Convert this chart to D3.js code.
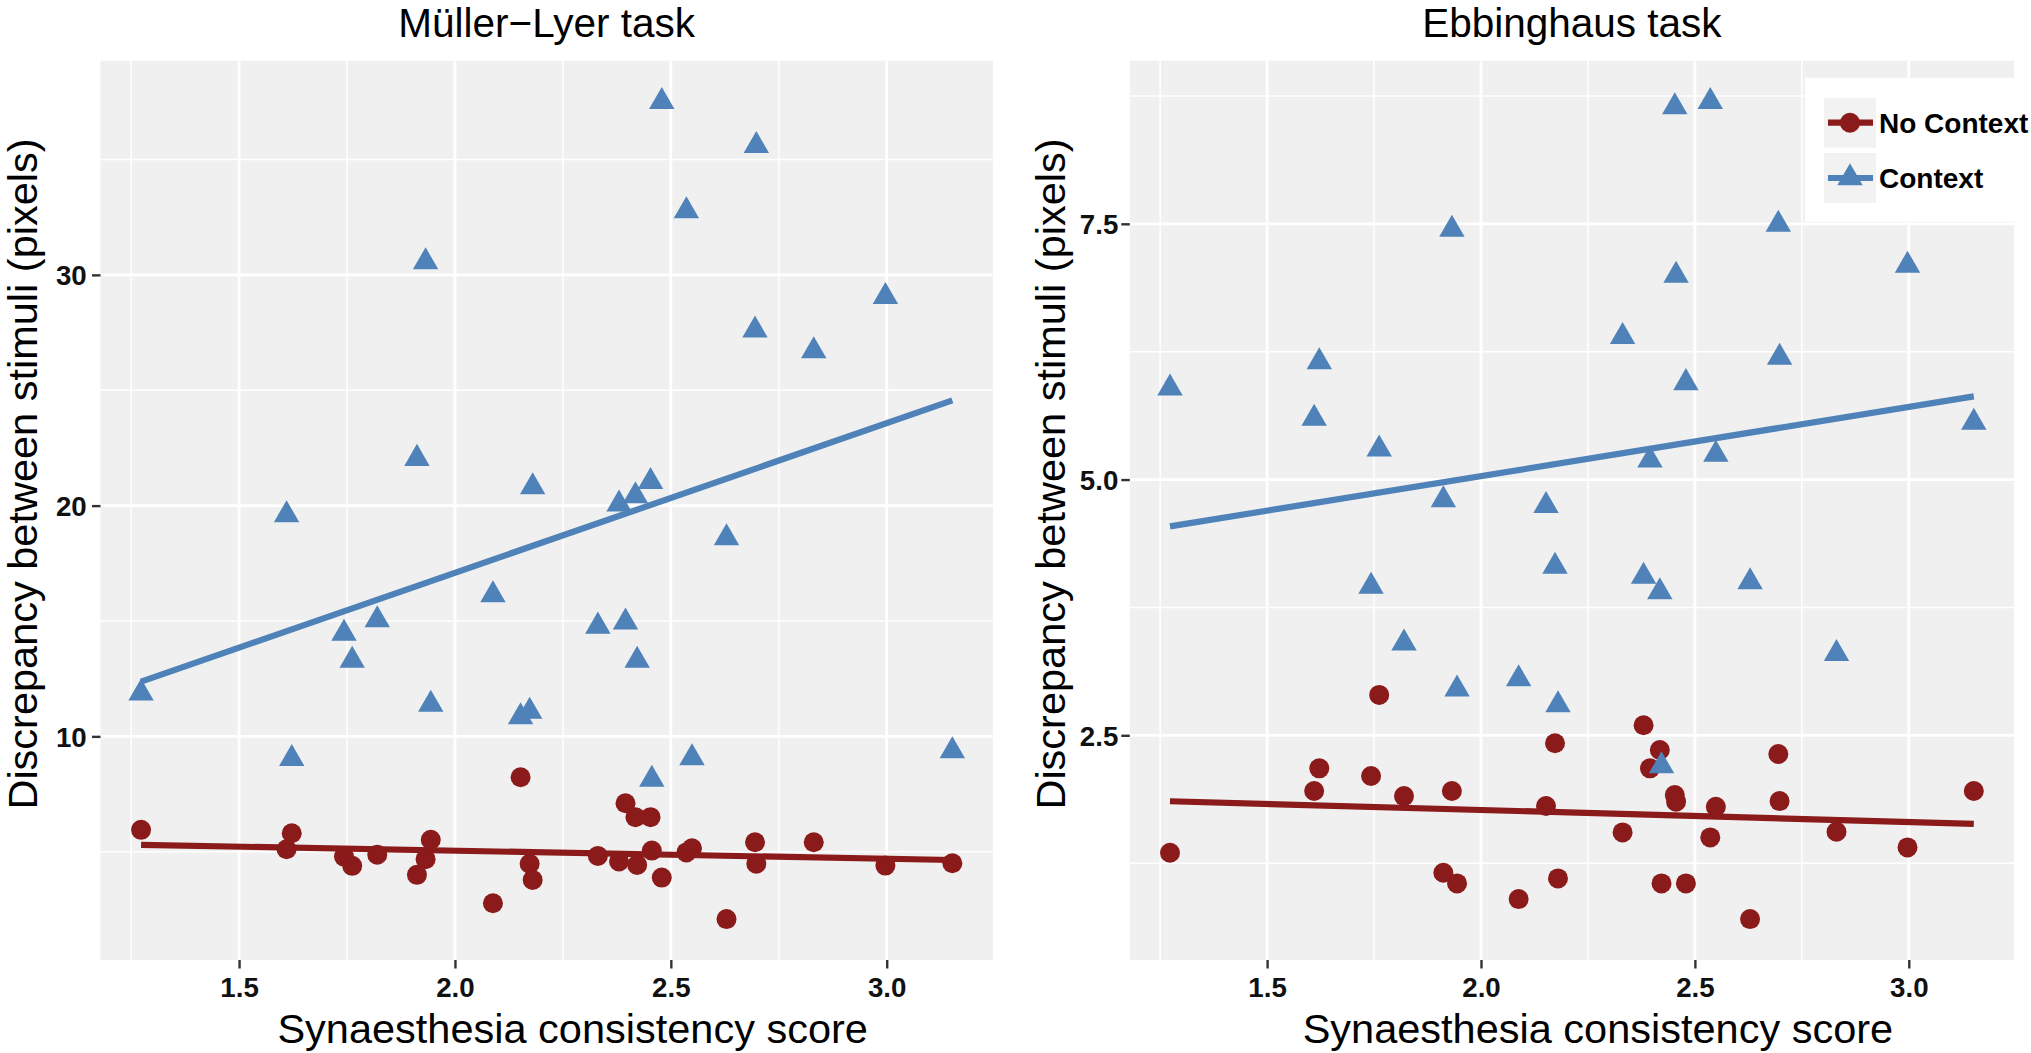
<!DOCTYPE html>
<html>
<head>
<meta charset="utf-8">
<script src="https://cdn.jsdelivr.net/npm/d3@7"></script>
<style>
  body { margin: 0; background: #ffffff; }
  text { font-family: "Liberation Sans", Arial, Helvetica, sans-serif; }
</style>
</head>
<body>
<div id="chart"></div>
<script>
// synaesthesia consistency score per participant (shared by both tasks)
var score = [1.273, 1.610, 1.622, 1.743, 1.762, 1.820, 1.912, 1.932, 1.944, 2.088,
             2.152, 2.173, 2.180, 2.331, 2.380, 2.395, 2.418, 2.422, 2.453, 2.456,
             2.479, 2.536, 2.549, 2.629, 2.695, 2.698, 2.831, 2.997, 3.152]

// Müller-Lyer discrepancy (pixels)
var mlNoContext = [5.95, 5.11, 5.80, 4.79, 4.39, 4.87, 4.00, 4.68, 5.52, 2.77,
                   8.23, 4.48, 3.78, 4.82, 4.58, 7.10, 6.50, 4.43, 6.50, 5.05,
                   3.88, 4.97, 5.15, 2.08, 5.41, 4.48, 5.41, 4.40, 4.50]
var mlContext = [11.87, 19.60, 9.03, 14.46, 13.29, 15.05, 22.04, 30.56, 11.38, 16.13,
                 10.84, 11.08, 20.81, 14.77, 20.06, 14.95, 20.42, 13.29, 21.04, 8.13,
                 37.51, 32.77, 9.07, 18.60, 27.60, 35.60, 26.70, 29.06, 9.37]

// Ebbinghaus discrepancy (pixels)
var ebNoContext = [1.352, 1.955, 2.177, 2.102, 2.895, 1.906, 1.156, 1.955, 1.052, 0.899,
                   1.809, 2.422, 1.101, 1.551, 2.598, 2.177, 2.356, 1.052, 1.916, 1.851,
                   1.052, 1.502, 1.802, 0.703, 2.317, 1.857, 1.557, 1.404, 1.955]
var ebContext = [5.894, 5.597, 6.151, 3.955, 5.297, 3.400, 4.800, 7.446, 2.950, 3.051,
                 4.745, 4.150, 2.797, 6.396, 4.053, 5.190, 3.902, 2.200, 8.643, 6.996,
                 5.946, 8.695, 5.245, 4.000, 7.495, 6.194, 3.299, 7.094, 5.558]

var xTicks = [1.5, 2.0, 2.5, 3.0]
var mlTicks = [10, 20, 30]
var ebTicks = [2.5, 5.0, 7.5]
var panelTitles = ["Müller\u2212Lyer task", "Ebbinghaus task"]
var seriesNames = ["No Context", "Context"]
var xTitle = "Synaesthesia consistency score"
var yTitle = "Discrepancy between stimuli (pixels)"

var W = 2031, H = 1053
var red = "#8b1a1a", blue = "#4f82b8"

var svg = d3.select("#chart").append("svg")
            .attr("width", W)
            .attr("height", H)

// ggplot style 5% expansion
function expand(ext) {
	var d = ext[1] - ext[0]
	return [ext[0] - 0.05 * d, ext[1] + 0.05 * d]
}

function minorOf(ticks, dom) {
	var step = ticks[1] - ticks[0]
	var out = []
	for (var t = ticks[0] - step / 2; t <= dom[1]; t += step)
		if (t >= dom[0]) out.push(t)
	return out
}

function lmFit(xs, ys) {
	var mx = d3.mean(xs), my = d3.mean(ys)
	var sxy = 0, sxx = 0
	for (var i = 0; i < xs.length; i++) {
		sxy += (xs[i] - mx) * (ys[i] - my)
		sxx += (xs[i] - mx) * (xs[i] - mx)
	}
	var b = sxy / sxx
	var a = my - b * mx
	var ext = d3.extent(xs)
	return ext.map(function(x) { return {x: x, y: a + b * x} })
}

var panels = [
	{x0: 100.5, x1: 992.9, y0: 60.7, y1: 960, noCtx: mlNoContext, ctx: mlContext,
	 yTicks: mlTicks, title: panelTitles[0], labGap: 13.8, yTitleX: 37, legend: false},
	{x0: 1129.8, x1: 2014, y0: 60.7, y1: 960, noCtx: ebNoContext, ctx: ebContext,
	 yTicks: ebTicks, title: panelTitles[1], labGap: 11.5, yTitleX: 1065, legend: true}
]

var triSym = d3.symbol().type(d3.symbolTriangle).size(280)
var cirSym = d3.symbol().type(d3.symbolCircle).size(Math.PI * 10 * 10)

panels.forEach(function(p) {
	var xDom = expand(d3.extent(score))
	var yDom = expand(d3.extent(p.noCtx.concat(p.ctx)))

	var xScale = d3.scaleLinear().domain(xDom).range([p.x0, p.x1])
	var yScale = d3.scaleLinear().domain(yDom).range([p.y1, p.y0])

	var g = svg.append("g")

	g.append("rect")
	 .attr("x", p.x0).attr("y", p.y0)
	 .attr("width", p.x1 - p.x0).attr("height", p.y1 - p.y0)
	 .attr("fill", "#f0f0f0")

	// minor grid
	g.selectAll(".vminor").data(minorOf(xTicks, xDom)).enter().append("line")
	 .attr("x1", function(d) { return xScale(d) }).attr("x2", function(d) { return xScale(d) })
	 .attr("y1", p.y0).attr("y2", p.y1)
	 .attr("stroke", "#ffffff").attr("stroke-width", 1.5)
	g.selectAll(".hminor").data(minorOf(p.yTicks, yDom)).enter().append("line")
	 .attr("y1", function(d) { return yScale(d) }).attr("y2", function(d) { return yScale(d) })
	 .attr("x1", p.x0).attr("x2", p.x1)
	 .attr("stroke", "#ffffff").attr("stroke-width", 1.5)
	// major grid
	g.selectAll(".vmajor").data(xTicks).enter().append("line")
	 .attr("x1", function(d) { return xScale(d) }).attr("x2", function(d) { return xScale(d) })
	 .attr("y1", p.y0).attr("y2", p.y1)
	 .attr("stroke", "#ffffff").attr("stroke-width", 2.8)
	g.selectAll(".hmajor").data(p.yTicks).enter().append("line")
	 .attr("y1", function(d) { return yScale(d) }).attr("y2", function(d) { return yScale(d) })
	 .attr("x1", p.x0).attr("x2", p.x1)
	 .attr("stroke", "#ffffff").attr("stroke-width", 2.8)

	// axes
	var xAxis = d3.axisBottom(xScale).tickValues(xTicks).tickFormat(d3.format(".1f"))
	              .tickSize(8.5).tickPadding(11)
	var yAxis = d3.axisLeft(yScale).tickValues(p.yTicks)
	              .tickFormat(p.yTicks[0] % 1 ? d3.format(".1f") : d3.format("d"))
	              .tickSize(8.5).tickPadding(p.labGap - 8.5)

	var xa = g.append("g").attr("transform", "translate(0," + p.y1 + ")").call(xAxis)
	var ya = g.append("g").attr("transform", "translate(" + p.x0 + ",0)").call(yAxis)
	;[xa, ya].forEach(function(a) {
		a.select(".domain").remove()
		a.selectAll(".tick line").attr("stroke", "#333333").attr("stroke-width", 2.4)
		a.selectAll(".tick text").attr("fill", "#111111")
		 .style("font-size", "27.7px").style("font-weight", "bold")
		 .style("font-family", "'Liberation Sans', Arial, sans-serif")
	})
	xa.selectAll(".tick text").attr("dy", null).attr("y", 37)
	ya.selectAll(".tick text").attr("dy", "0.36em")

	// points: No Context circles, then Context triangles
	g.selectAll(".noctx").data(p.noCtx).enter().append("path")
	 .attr("d", cirSym)
	 .attr("transform", function(d, i) { return "translate(" + xScale(score[i]) + "," + yScale(d) + ")" })
	 .attr("fill", red)
	g.selectAll(".ctx").data(p.ctx).enter().append("path")
	 .attr("d", triSym)
	 .attr("transform", function(d, i) { return "translate(" + xScale(score[i]) + "," + yScale(d) + ")" })
	 .attr("fill", blue)

	// linear fits
	var line = d3.line().x(function(d) { return xScale(d.x) }).y(function(d) { return yScale(d.y) })
	g.append("path").attr("d", line(lmFit(score, p.noCtx)))
	 .attr("stroke", red).attr("stroke-width", 6.2).attr("fill", "none")
	g.append("path").attr("d", line(lmFit(score, p.ctx)))
	 .attr("stroke", blue).attr("stroke-width", 6.2).attr("fill", "none")

	// titles
	g.append("text")
	 .attr("x", (p.x0 + p.x1) / 2).attr("y", 37)
	 .attr("text-anchor", "middle")
	 .style("font-size", "40.5px")
	 .text(p.title)
	g.append("text")
	 .attr("x", (p.x0 + p.x1) / 2 + 26).attr("y", 1043)
	 .attr("text-anchor", "middle")
	 .style("font-size", "41.5px")
	 .text(xTitle)
	g.append("text")
	 .attr("transform", "translate(" + p.yTitleX + ",474) rotate(-90)")
	 .attr("text-anchor", "middle")
	 .style("font-size", "41.5px")
	 .text(yTitle)

	if (p.legend) {
		var lg = g.append("g")
		lg.append("rect").attr("x", 1805).attr("y", 77.7)
		  .attr("width", 240).attr("height", 144).attr("fill", "#ffffff")
		var keys = [{name: seriesNames[0], col: red, sym: cirSym, cy: 122.7},
		            {name: seriesNames[1], col: blue, sym: triSym, cy: 178}]
		keys.forEach(function(k) {
			lg.append("rect").attr("x", 1824).attr("y", k.cy - 25)
			  .attr("width", 52).attr("height", 50).attr("fill", "#f2f2f2")
			lg.append("line").attr("x1", 1828).attr("x2", 1873)
			  .attr("y1", k.cy).attr("y2", k.cy)
			  .attr("stroke", k.col).attr("stroke-width", 6.2)
			lg.append("path").attr("d", k.sym)
			  .attr("transform", "translate(1850," + k.cy + ")")
			  .attr("fill", k.col)
			lg.append("text").attr("x", 1879).attr("y", k.cy + 10)
			  .style("font-size", "28px").style("font-weight", "bold")
			  .text(k.name)
		})
	}
})
</script>
</body>
</html>
